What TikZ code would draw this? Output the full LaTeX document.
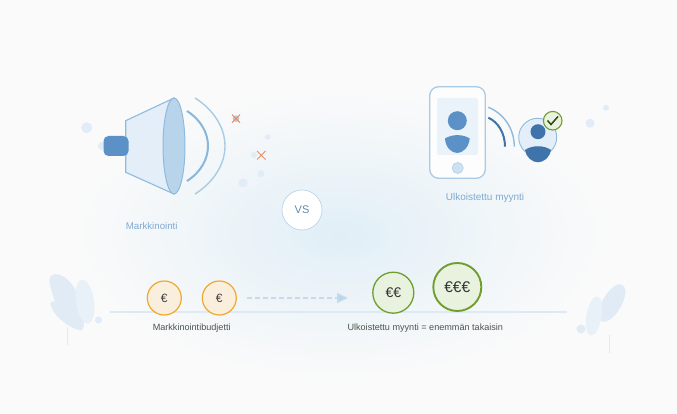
\documentclass[tikz,border=0pt]{standalone}
\usepackage{fontspec}
\setmainfont{Liberation Sans}
\usetikzlibrary{arrows.meta}
\definecolor{bgc}{HTML}{FAFAFA}
\definecolor{glowa}{HTML}{E0EEF7}
\definecolor{linec}{HTML}{8EBBDD}
\definecolor{linelight}{HTML}{A9CBE5}
\definecolor{midblue}{HTML}{5B91C6}
\definecolor{dkblue}{HTML}{3F74AB}
\definecolor{palefill}{HTML}{E3EEF8}
\definecolor{conefill}{HTML}{B8D4EA}
\definecolor{dotc}{HTML}{E1ECF6}
\definecolor{leafc}{HTML}{E0EBF5}
\definecolor{leafpale}{HTML}{E8F0F8}
\definecolor{groundc}{HTML}{DDE9F5}
\definecolor{orangec}{HTML}{EFA92F}
\definecolor{orangefill}{HTML}{FAEEDD}
\definecolor{greenc}{HTML}{6F9E2E}
\definecolor{greenfill}{HTML}{E9F2DF}
\definecolor{crossc}{HTML}{E8906A}
\definecolor{labelblue}{HTML}{7FAAD2}
\definecolor{darktext}{HTML}{4A5550}
\definecolor{vstext}{HTML}{5E8BA8}
\tikzset{
  dotmark/.style={fill=dotc,draw=none},
  leafshape/.style={fill=leafc,draw=none},
  leaflight/.style={fill=leafpale,draw=none},
  stemline/.style={draw=leafc,line width=1.2pt},
  wave/.style={draw=linelight,line width=1.4pt},
  wavedark/.style={draw=#1,line width=2pt},
  crossmark/.style={draw=crossc,line width=1pt},
  blueLabel/.style={text=labelblue,inner sep=0pt},
  darkLabel/.style={text=darktext,font=\fontsize{9.1}{11}\selectfont,inner sep=0pt},
  euro/.style={circle,draw=orangec,line width=1.2pt,fill=orangefill,minimum size=34pt,inner sep=0pt,text=black!75,font=\fontsize{12}{14}\selectfont},
  greencoin/.style={circle,draw=greenc,fill=greenfill,inner sep=0pt,text=black!80},
}
\begin{document}
\begin{tikzpicture}[x=1pt,y=-1pt]
\useasboundingbox (0,0) rectangle (677,414);
\fill[bgc] (0,0) rectangle (677,414);
% soft glow: nested ellipses
\foreach \i in {40,39,...,1}{
  \pgfmathsetmacro{\tt}{\i/40}
  \pgfmathsetmacro{\pp}{100*(1-\tt)^1.15}
  \fill[glowa!\pp!bgc] (340,235) ellipse [x radius=\tt*275pt,y radius=\tt*150pt];
}
% ground
\coordinate (gl) at (110,312); \coordinate (gr) at (567,312);
\draw[draw=groundc,line width=1.8pt] (gl) -- (gr);
% left plant
\draw[stemline] (67.3,327) -- (67.3,345);
\fill[leafshape] (50,277) .. controls (54,270) and (72,276) .. (78,297) .. controls (83,312) and (86,326) .. (82,330) .. controls (76,332) and (54,318) .. (51,306) .. controls (49,302) and (52,302) .. (55,301) .. controls (52,292) and (48,282) .. (50,277) -- cycle;
\fill[leaflight,rotate around={8:(85,301.6)}] (85,301.6) ellipse [x radius=9pt,y radius=22pt];
\fill[dotmark] (98.5,320) circle [radius=3.5pt];
% right plant
\draw[stemline] (609.3,335) -- (609.3,353);
\fill[leafshape,rotate around={-30:(612,303)}] (612,303) ellipse [x radius=9.5pt,y radius=21pt];
\fill[leaflight,rotate around={-10:(594,316)}] (594,316) ellipse [x radius=7.5pt,y radius=20pt];
\fill[dotmark] (581,329) circle [radius=4.5pt];
% speaker dots
\fill[dotmark] (86.7,127.7) circle [radius=5.5pt];
\fill[dotmark] (102,146) circle [radius=4pt];
\fill[dotmark] (267.7,137) circle [radius=2.7pt];
\fill[dotmark] (254,155) circle [radius=3pt];
\fill[dotmark] (261,173.5) circle [radius=3.5pt];
\fill[dotmark] (243,183) circle [radius=4.5pt];
\fill[dotc!85!black] (236,118.7) circle [radius=3.3pt];
% speaker
\filldraw[fill=palefill,draw=linec,line width=1.1pt] (125.7,120.7) -- (174,98) -- (174,194) -- (125.7,172.3) -- cycle;
\filldraw[fill=conefill,draw=linec,line width=1pt] (174,146) ellipse [x radius=11pt,y radius=48pt];
\fill[midblue,rounded corners=5pt] (103.5,136) rectangle (128.5,156);
\draw[wavedark=linec!90!midblue] (187,111) .. controls (201,120) and (208,133) .. (208,146) .. controls (208,159) and (201,172) .. (187,181);
\draw[wave] (195,98) .. controls (214,110) and (225,128) .. (225,146) .. controls (225,164) and (214,182) .. (195,194);
% crosses
\draw[crossmark] (232,114.7) -- (240,122.7) (240,114.7) -- (232,122.7);
\draw[crossmark] (257,151) -- (265.5,159.5) (265.5,151) -- (257,159.5);
\node[blueLabel,font=\fontsize{9.7}{11}\selectfont] (mk) at (151.7,226) {Markkinointi};
% phone
\filldraw[fill=white!60!bgc,draw=linelight,line width=1.3pt,rounded corners=9pt] (429.7,86.7) rectangle (485.3,178.3);
\fill[palefill!75!white,rounded corners=2pt] (437,98) rectangle (478,155);
\fill[midblue] (457.3,120.7) circle [radius=9.5pt];
\fill[midblue] (445,138.5) .. controls (452,134) and (463,134) .. (469.7,138.5) .. controls (469,147) and (463,153) .. (457.3,153) .. controls (451,153) and (445.5,147) .. (445,138.5) -- cycle;
\filldraw[fill=conefill!70!white,draw=conefill,line width=0.8pt] (457.7,168) circle [radius=5.5pt];
% phone waves
\draw[wavedark=dkblue] (488.3,117.7) .. controls (498,122) and (505,133) .. (505,146.7);
\draw[draw=linec,line width=1.4pt] (488.3,107.3) .. controls (503,113) and (514.3,128) .. (514.3,146.7);
% person
\filldraw[fill=palefill,draw=linec,line width=0.9pt] (537.7,137.3) circle [radius=19pt];
\fill[dkblue] (538,131.7) circle [radius=7.5pt];
\fill[dkblue] (525,150) .. controls (532,145) and (544,145) .. (551,150) .. controls (550,157) and (544,162.3) .. (538,162.3) .. controls (532,162.3) and (526,157) .. (525,150) -- cycle;
\filldraw[fill=greenfill,draw=greenc,line width=1.1pt] (552.7,120.7) circle [radius=9.3pt];
\draw[draw=black!55!greenc,line width=1.5pt] (547.5,120.5) -- (551,124.5) -- (558,116.5);
\fill[dotmark] (590,123.3) circle [radius=4.5pt];
\fill[dotmark] (606,107.7) circle [radius=3pt];
\node[blueLabel,font=\fontsize{10}{12}\selectfont] (um) at (485,198) {Ulkoistettu myynti};
% VS
\node[circle,draw=linelight!80,line width=0.7pt,fill=white,minimum size=40pt,inner sep=0pt,text=vstext,font=\fontsize{11}{13}\selectfont] (vs) at (302,210) {VS};
% coins
\node[euro] (ea) at (164.3,298) {€};
\node[euro] (eb) at (219.3,298) {€};
\node[greencoin,line width=1.3pt,minimum size=41pt,font=\fontsize{14}{16}\selectfont] (ec) at (393.3,292.7) {€€};
\node[greencoin,line width=1.9pt,minimum size=48pt,font=\fontsize{15.5}{18}\selectfont] (ed) at (457.3,287) {€€€};
% dashed arrow
\coordinate (as) at (246.7,298); \coordinate (ae) at (348,298);
\draw[draw=linelight!70!white,line width=1.5pt,dash pattern=on 5pt off 3pt,-{Triangle[length=11pt,width=10pt,fill=linelight!80!white]}] (as) -- (ae);
\node[darkLabel] (mb) at (191.7,328) {Markkinointibudjetti};
\node[darkLabel] (ut) at (425.3,328) {Ulkoistettu myynti = enemmän takaisin};
\end{tikzpicture}
\end{document}
